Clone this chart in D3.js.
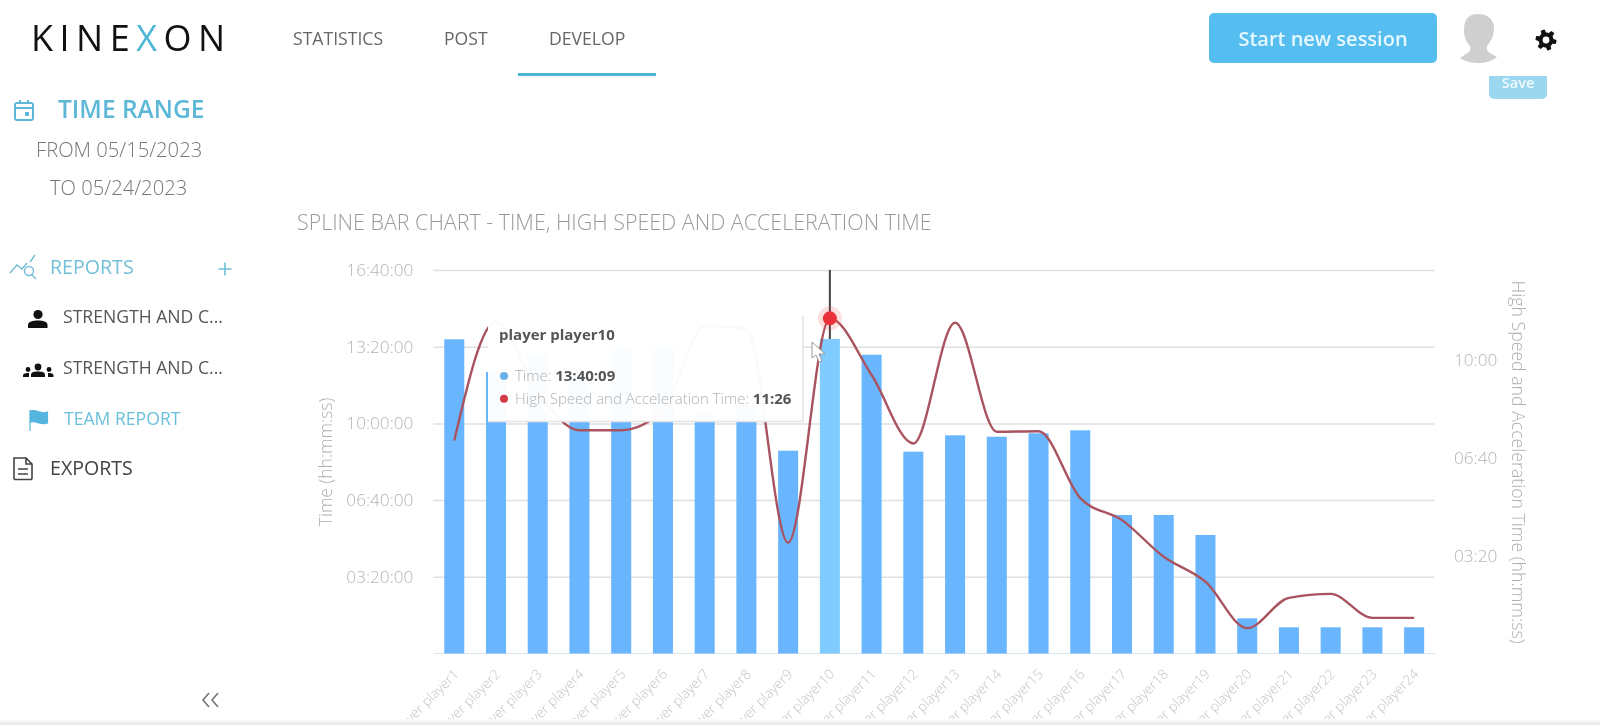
<!DOCTYPE html>
<html><head><meta charset="utf-8">
<script src="https://cdn.jsdelivr.net/npm/d3@7/dist/d3.min.js"></script>
<style>
html,body{margin:0;padding:0;background:#fff;overflow:hidden}
svg{display:block;font-family:"Open Sans",sans-serif;filter:blur(0.45px)}
.axis .domain{display:none}
</style></head><body>
<svg id="c" width="1600" height="725" viewBox="0 0 1600 725"></svg>
<script>
const players = ["player player1","player player2","player player3","player player4","player player5","player player6","player player7","player player8","player player9","player player10","player player11","player player12","player player13","player player14","player player15","player player16","player player17","player player18","player player19","player player20","player player21","player player22","player player23","player player24"];
const timeSeconds = [49157,44041,46857,43415,47795,47795,37626,38878,31728,49209,46747,31572,34137,33918,34450,34920,21668,21668,18539,5507,4099,4099,4099,4099];
const highSpeedSeconds = [436,679,535,457,457,498,670,665,227,686,570,430,677,454,455,318,273,198,147,52,114,122,73,73];
const leftTicks = [12000,24000,36000,48000,60000];
const rightTicks = [200,400,600];
const navItems = ["STATISTICS","POST","DEVELOP"];
const activeIndex = 9;

const svg = d3.select("#c");
const fmtHMS = s => [Math.floor(s/3600),Math.floor(s%3600/60),s%60].map(v=>String(v).padStart(2,"0")).join(":");
const fmtMS = s => [Math.floor(s/60),s%60].map(v=>String(v).padStart(2,"0")).join(":");
function label(t,x,y,size,fill,weight,anchor){
  return svg.append("text").attr("x",x).attr("y",y).attr("dy",".35em").attr("font-size",size).attr("fill",fill)
    .attr("font-weight",weight||400).attr("text-anchor",anchor||"start").text(t);
}

// ---------- chart ----------
const x = d3.scaleBand().domain(players).range([433.4,1435]).paddingInner(.52).paddingOuter(.26);
const y = d3.scaleLinear().domain([0,60000]).range([653.5,270]);
const y2 = d3.scaleLinear().domain([0,785]).range([653.5,270]);
const defs = svg.append("defs");
defs.append("clipPath").attr("id","bottomClip").append("rect").attr("x",300).attr("y",600).attr("width",1300).attr("height",121);
const grad = defs.append("linearGradient").attr("id","bot").attr("x1",0).attr("x2",0).attr("y1",0).attr("y2",1);
grad.append("stop").attr("offset",0).attr("stop-color","#fff");
grad.append("stop").attr("offset",1).attr("stop-color","#e6e6e6");

const gl = svg.append("g").attr("class","axis").attr("transform","translate(433.4,0)")
  .call(d3.axisLeft(y).tickValues(leftTicks).tickSize(-1001).tickPadding(20).tickFormat(fmtHMS));
gl.selectAll("line").attr("stroke","#e0e0e0").attr("stroke-width",1.5);
gl.selectAll("text").attr("fill","#b4b4b4").attr("font-size",17.2).attr("font-weight",300).attr("font-family","Open Sans");

const gr = svg.append("g").attr("class","axis").attr("transform","translate(1435,0)")
  .call(d3.axisRight(y2).tickValues(rightTicks).tickSize(0).tickPadding(19).tickFormat(fmtMS));
gr.selectAll("text").attr("fill","#b4b4b4").attr("font-size",17.2).attr("font-weight",300).attr("font-family","Open Sans");

const gx = svg.append("g").attr("clip-path","url(#bottomClip)").append("g").attr("class","axis").attr("transform","translate(0,653.5)")
  .call(d3.axisBottom(x).tickSize(0));
gx.selectAll("text").attr("y",0).attr("dy",".35em").attr("text-anchor","end")
  .attr("transform","translate(2,18) rotate(-45)")
  .attr("fill","#c4c4c4").attr("font-size",13.8).attr("font-weight",300).attr("font-family","Open Sans");
svg.append("line").attr("x1",433.4).attr("x2",1435).attr("y1",653.5).attr("y2",653.5).attr("stroke","#d8e6f0").attr("stroke-width",1);

// crosshair
svg.append("line").attr("x1",x(players[activeIndex])+x.bandwidth()/2).attr("x2",x(players[activeIndex])+x.bandwidth()/2)
  .attr("y1",270).attr("y2",653).attr("stroke","#444").attr("stroke-width",2);

// bars
svg.append("g").selectAll("rect").data(players).join("rect")
  .attr("x",d=>x(d)).attr("width",x.bandwidth())
  .attr("y",(d,i)=>y(timeSeconds[i])).attr("height",(d,i)=>y(0)-y(timeSeconds[i]))
  .attr("fill",(d,i)=>i===activeIndex?"#80cbff":"#69b6ff");

// spline
const line = d3.line().x((d,i)=>x(players[i])+x.bandwidth()/2).y(d=>y2(d)).curve(d3.curveMonotoneX);
svg.append("path").attr("d",line(highSpeedSeconds)).attr("fill","none").attr("stroke","#a9535f").attr("stroke-width",2.4);

// active marker
const mx = x(players[activeIndex])+x.bandwidth()/2, my = y2(highSpeedSeconds[activeIndex]);
svg.append("circle").attr("cx",mx).attr("cy",my).attr("r",12).attr("fill","#f03a3f").attr("fill-opacity",.16);
svg.append("circle").attr("cx",mx).attr("cy",my).attr("r",7).attr("fill","#ec3038");

// tooltip
svg.append("rect").attr("x",488).attr("y",316).attr("width",315).attr("height",105.5)
  .attr("fill","#fff").attr("fill-opacity",.965);
svg.append("path").attr("d","M803,316V421.5H488").attr("fill","none").attr("stroke","#e4e4e4").attr("stroke-width",1.5);
label("player player10",499,334.5,15,"#555",700);
svg.append("circle").attr("cx",504).attr("cy",376).attr("r",4).attr("fill","#69b0e6");
svg.append("circle").attr("cx",504).attr("cy",398.7).attr("r",4).attr("fill","#d23a45");
const t1 = label("",515,376,15,"#b0b0b0",300);
t1.append("tspan").text("Time: ");
t1.append("tspan").attr("font-weight",700).attr("fill","#555").text(fmtHMS(timeSeconds[activeIndex]));
const t2 = label("",515,398.7,15,"#b0b0b0",300);
t2.append("tspan").text("High Speed and Acceleration Time: ");
t2.append("tspan").attr("font-weight",700).attr("fill","#555").text(fmtMS(highSpeedSeconds[activeIndex]));

// cursor
svg.append("path").attr("d","M812,342V358L816,355L819,362L822,361L819,354L825,354Z").attr("fill","#fff").attr("stroke","#999").attr("stroke-width",1);

// axis titles, title
svg.append("text").attr("transform","translate(326,462) rotate(-90)").attr("text-anchor","middle").attr("dy",".35em")
  .attr("font-size",17.5).attr("font-weight",300).attr("fill","#b0b0b0").text("Time (hh:mm:ss)");
svg.append("text").attr("transform","translate(1518,462) rotate(90)").attr("text-anchor","middle").attr("dy",".35em")
  .attr("font-size",17.7).attr("font-weight",300).attr("fill","#b0b0b0").text("High Speed and Acceleration Time (hh:mm:ss)");
label("SPLINE BAR CHART - TIME, HIGH SPEED AND ACCELERATION TIME",297,222.5,21.45,"#9a9a9a",300);

// ---------- header ----------
const logo = svg.append("text").attr("x",31).attr("y",51).attr("font-size",36).attr("font-weight",400).attr("fill","#111").attr("letter-spacing",6.5);
logo.append("tspan").text("KINE");
logo.append("tspan").attr("fill","#4fb6d6").attr("font-weight",400).text("X");
logo.append("tspan").text("ON");

const navX = [293,444,549];
navItems.forEach((n,i)=>label(n,navX[i],39,17.6,"#666",400));
svg.append("rect").attr("x",518).attr("y",73).attr("width",138).attr("height",3).attr("fill","#4db3d3");

svg.append("rect").attr("x",1209).attr("y",13).attr("width",228).attr("height",50).attr("rx",5).attr("fill","#56bdf0");
label("Start new session",1323,39,20,"#e6f8ff",600,"middle");

// avatar
svg.append("path").attr("fill","#cfcfcf").attr("d","M1478,14C1468,14 1464,20 1464,30C1464,38 1467,43 1470,46C1471,50 1470,52 1466,54L1460,58C1466,62 1472,63 1479,63C1486,63 1492,61 1497,57L1490,53C1487,51 1486,49 1487,46C1491,41 1494,36 1494,28C1494,20 1488,14 1478,14Z");
// gear
const gearPts = d3.range(48).map(i=>{const a=i/48*2*Math.PI, k=((i+4)%8); return [a, k<4?10.5:7.5];});
svg.append("path").attr("transform","translate(1546,40)").attr("d",d3.lineRadial().curve(d3.curveLinearClosed)(gearPts)).attr("fill","#111");
svg.append("circle").attr("cx",1546).attr("cy",40).attr("r",3.4).attr("fill","#fff");

// save
svg.append("path").attr("d","M1489,76H1547V94a5,5 0 0 1 -5,5H1494a5,5 0 0 1 -5,-5Z").attr("fill","#9bd8ef");
label("Save",1518,83,14.5,"#eefaff",600,"middle");

// ---------- sidebar ----------
const blue="#5db8d8";
svg.append("g").attr("fill","none").attr("stroke",blue).attr("stroke-width",2).call(g=>{
  g.append("rect").attr("x",15).attr("y",103).attr("width",18).attr("height",17).attr("rx",2);
  g.append("path").attr("d","M15,108H33M20,100V104M28,100V104");
});
svg.append("rect").attr("x",25).attr("y",112).attr("width",4).attr("height",4).attr("fill",blue);
label("TIME RANGE",58,109,24.5,blue,600);
label("FROM 05/15/2023",36,150,20.2,"#777",300);
label("TO 05/24/2023",50,188,20.2,"#777",300);

svg.append("g").attr("fill","none").attr("stroke","#72bdd6").attr("stroke-width",1.4).call(g=>{
  g.append("path").attr("d","M10,273L17,265L22,269L27,263M30,262L35,255");
  g.append("circle").attr("cx",29).attr("cy",271).attr("r",4.5);
  g.append("path").attr("d","M32,275L36,279");
});
label("REPORTS",50,267,19.6,"#74c0d8",400);
svg.append("path").attr("d","M218.5,269H231.5M225,262.5V275.5").attr("stroke","#6fc0d4").attr("stroke-width",1.6);

// person
svg.append("circle").attr("cx",38).attr("cy",314.5).attr("r",4.6).attr("fill","#111");
svg.append("path").attr("d","M28,328V325C28,321.5 33,320.5 38,320.5C43,320.5 47.5,321.5 47.5,325V328Z").attr("fill","#111");
label("STRENGTH AND C...",63,317,17.6,"#555",400);
// group
svg.append("g").attr("fill","#111").call(g=>{
  g.append("circle").attr("cx",38).attr("cy",367).attr("r",3.4);
  g.append("path").attr("d","M31,377V375C31,372 34,371.5 38,371.5C42,371.5 45,372 45,375V377Z");
  g.append("circle").attr("cx",28).attr("cy",369.5).attr("r",2.4);
  g.append("path").attr("d","M23,377V375.5C23,373.5 26,373 29,373V377Z");
  g.append("circle").attr("cx",49).attr("cy",369.5).attr("r",2.4);
  g.append("path").attr("d","M48,377V373C51,373 53.5,373.5 53.5,375.5V377Z");
});
label("STRENGTH AND C...",63,368,17.6,"#555",400);
// flag
svg.append("path").attr("d","M30,410V431M31,411C36,409 41,415 47.5,412V423C41,426 36,420 31,422Z").attr("fill","#55b5de").attr("stroke","#55b5de").attr("stroke-width",1.2);
label("TEAM REPORT",64,419,17.6,"#6ac0dc",400);
// file
svg.append("path").attr("d","M14,458H26L32,464V478a1.5,1.5 0 0 1 -1.5,1.5H15.5a1.5,1.5 0 0 1 -1.5,-1.5ZM26,458V464H32M18,469H28M18,474H28").attr("fill","none").attr("stroke","#444").attr("stroke-width",1.6);
label("EXPORTS",50,468,19.6,"#444",400);

// collapse
svg.append("path").attr("d","M209,693L203,700L209,707M218,693L212,700L218,707").attr("fill","none").attr("stroke","#777").attr("stroke-width",1.6);

// bottom shade
svg.append("rect").attr("x",0).attr("y",719).attr("width",1600).attr("height",6).attr("fill","url(#bot)");
</script>
</body></html>
